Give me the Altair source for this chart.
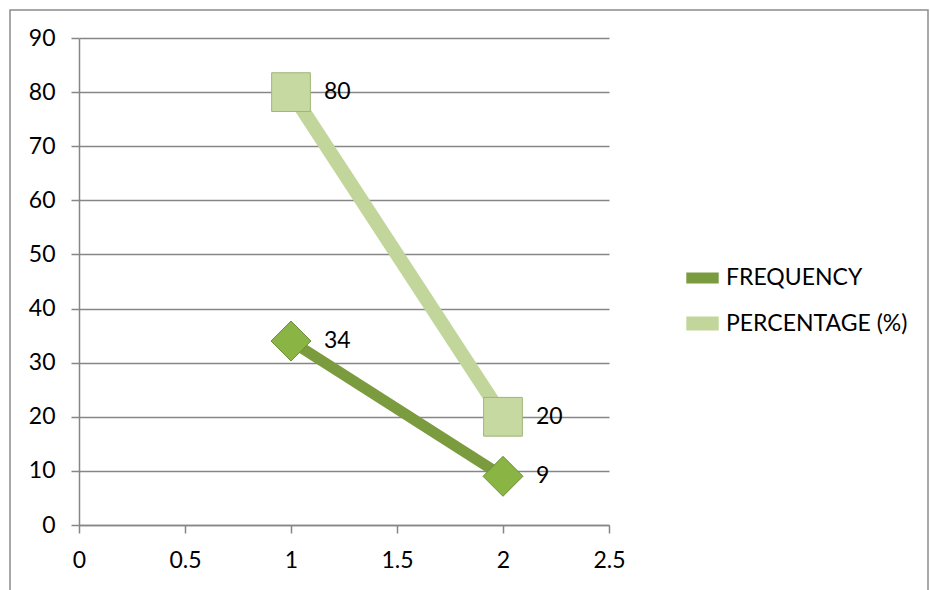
import altair as alt
import pandas as pd

# ---- data ----
x_vals = [1, 2]
frequency = [34, 9]
percentage = [80, 20]
series_names = ["FREQUENCY", "PERCENTAGE (%)"]
x_ticks = [0, 0.5, 1, 1.5, 2, 2.5]
y_ticks = [0, 10, 20, 30, 40, 50, 60, 70, 80, 90]

rows = []
for xv, f, p in zip(x_vals, frequency, percentage):
    rows.append({"x": xv, "value": f, "series": series_names[0]})
    rows.append({"x": xv, "value": p, "series": series_names[1]})
df = pd.DataFrame(rows)

FONT = "Lato"
FS = 23
GRAY = "#868686"

color_scale = alt.Scale(domain=series_names, range=["#7b9b3f", "#c2d69b"])

x_enc = alt.X("x:Q", scale=alt.Scale(domain=[0, 2.5], nice=False, zero=False),
              axis=alt.Axis(values=x_ticks, title=None, grid=False, tickSize=8, format="~g",
                            labelPadding=16, labelFlush=False))
y_enc = alt.Y("value:Q", scale=alt.Scale(domain=[0, 90], nice=False),
              axis=alt.Axis(values=y_ticks, title=None, grid=True, tickSize=8,
                            labelPadding=16))

base = alt.Chart(df)

frame = alt.Chart(pd.DataFrame({"a": [0]})).mark_rect(
    fillOpacity=0, stroke="#8c8c8c", strokeWidth=1.5
).encode(x=alt.value(-69), x2=alt.value(849), y=alt.value(-28), y2=alt.value(600))

lines = base.mark_line(strokeCap="butt").encode(
    x=x_enc, y=y_enc,
    color=alt.Color("series:N", scale=color_scale,
                    legend=alt.Legend(orient="none", legendX=600, legendY=218, title=None,
                                      symbolType="stroke", symbolStrokeWidth=10,
                                      symbolSize=1050, labelFont=FONT, labelFontSize=FS,
                                      labelColor="black", rowPadding=-20, labelOffset=0,
                                      labelLimit=0)),
    strokeWidth=alt.StrokeWidth("series:N", scale=alt.Scale(domain=series_names, range=[11, 14]),
                                legend=None),
)

squares = base.transform_filter(alt.datum.series == series_names[1]).mark_point(
    shape="square", size=1500, filled=True, fill="#c6d9a1", stroke="#9fb57a", strokeWidth=1, opacity=1
).encode(x="x:Q", y="value:Q")

diamonds = base.transform_filter(alt.datum.series == series_names[0]).mark_point(
    shape="diamond", size=1600, filled=True, fill="#8ab545", stroke="#6e8f37", strokeWidth=1, opacity=1
).encode(x="x:Q", y="value:Q")

labels = base.mark_text(align="left", baseline="middle", dx=33, font=FONT, fontSize=FS,
                        color="black").encode(x="x:Q", y="value:Q", text="value:Q")

chart = alt.layer(frame, lines, squares, diamonds, labels).properties(
    width=530, height=487,
    padding={"left": 79, "top": 38, "right": 321, "bottom": 65},
    autosize=alt.AutoSizeParams(type="none"),
).configure_view(stroke=None).configure_axis(
    domainColor=GRAY, gridColor=GRAY, tickColor=GRAY, domainWidth=1.5, gridWidth=1.5,
    tickWidth=1.5, labelFont=FONT, labelFontSize=FS, labelColor="black"
)

chart.save("out.html", embed_options={"renderer": "svg", "actions": False})
